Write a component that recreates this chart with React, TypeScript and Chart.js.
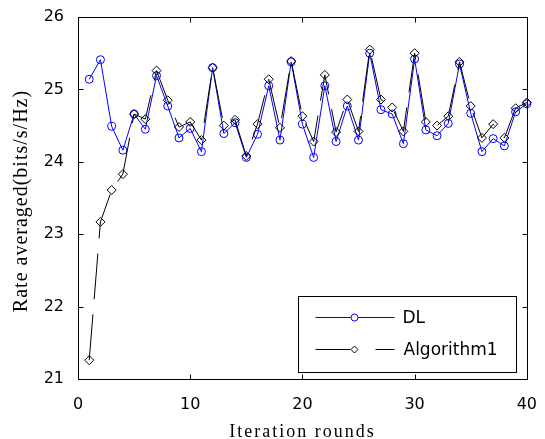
import React, { useEffect, useRef } from "react";
import { Chart, registerables } from "chart.js";

Chart.register(...registerables);

// ---- data ----
const iterations = [
  1, 2, 3, 4, 5, 6, 7, 8, 9, 10, 11, 12, 13, 14, 15, 16, 17, 18, 19, 20,
  21, 22, 23, 24, 25, 26, 27, 28, 29, 30, 31, 32, 33, 34, 35, 36, 37, 38, 39, 40,
];
const dlRate = [
  25.14, 25.41, 24.49, 24.16, 24.66, 24.45, 25.19, 24.77, 24.33, 24.46,
  24.14, 25.3, 24.39, 24.54, 24.06, 24.38, 25.05, 24.3, 25.38, 24.52,
  24.06, 25.05, 24.28, 24.77, 24.3, 25.5, 24.72, 24.66, 24.25, 25.42,
  24.44, 24.36, 24.53, 25.35, 24.67, 24.14, 24.32, 24.22, 24.69, 24.8,
];
const algRate = [
  21.26, 23.17, 23.61, 23.83, 24.66, 24.59, 25.26, 24.85, 24.48, 24.55,
  24.3, 25.3, 24.5, 24.58, 24.08, 24.52, 25.14, 24.47, 25.39, 24.63,
  24.28, 25.2, 24.41, 24.86, 24.42, 25.55, 24.86, 24.75, 24.42, 25.5,
  24.55, 24.5, 24.63, 25.38, 24.77, 24.33, 24.52, 24.33, 24.74, 24.82,
];
const seriesNames = ["DL", "Algorithm1"];
const xTickValues = [0, 10, 20, 30, 40];
const xTickLabels = ["0", "10", "20", "30", "40"];
const yTickValues = [21, 22, 23, 24, 25, 26];
const yTickLabels = ["21", "22", "23", "24", "25", "26"];
const xTitle = "Iteration rounds";
const yTitle = "Rate averaged(bits/s/Hz)";

const BLUE = "#0000ff";
const BLACK = "#000000";
const TICK_FONT = { family: "'DejaVu Sans'", size: 16 };

const framePlugin = {
  id: "matlabFrame",
  afterDraw(chart: any) {
    const { ctx, chartArea: a, scales } = chart;
    const xs = scales.x;
    const ys = scales.y;
    ctx.save();
    ctx.strokeStyle = BLACK;
    ctx.lineWidth = 1;
    ctx.setLineDash([]);
    const L = Math.round(a.left) + 0.5;
    const R = Math.round(a.right) + 0.5;
    const T = Math.round(a.top) + 0.5;
    const B = Math.round(a.bottom) + 0.5;
    ctx.strokeRect(L, T, R - L, B - T);
    const tl = 5;
    ctx.beginPath();
    for (const v of xTickValues) {
      const p = Math.round(xs.getPixelForValue(v)) + 0.5;
      ctx.moveTo(p, B);
      ctx.lineTo(p, B - tl);
      ctx.moveTo(p, T);
      ctx.lineTo(p, T + tl);
    }
    for (const v of yTickValues) {
      const p = Math.round(ys.getPixelForValue(v)) + 0.5;
      ctx.moveTo(L, p);
      ctx.lineTo(L + tl, p);
      ctx.moveTo(R, p);
      ctx.lineTo(R - tl, p);
    }
    ctx.stroke();

    // axis titles
    ctx.fillStyle = BLACK;
    ctx.textBaseline = "alphabetic";
    ctx.textAlign = "center";
    ctx.font = '18px "Liberation Serif"';
    (ctx as any).letterSpacing = "2px";
    ctx.fillText(xTitle, (a.left + a.right) / 2, 437);
    ctx.save();
    ctx.font = '20px "Liberation Serif"';
    (ctx as any).letterSpacing = "1px";
    ctx.translate(27, (a.top + a.bottom) / 2 + 3);
    ctx.rotate(-Math.PI / 2);
    ctx.fillText(yTitle, 0, 0);
    ctx.restore();
    (ctx as any).letterSpacing = "0px";

    // legend
    const bx = Math.round(a.right) - 229 + 0.5;
    const by = Math.round(a.bottom) - 83 + 0.5;
    const bw = 218;
    const bh = 76;
    ctx.fillStyle = "#ffffff";
    ctx.fillRect(bx, by, bw, bh);
    ctx.strokeStyle = BLACK;
    ctx.strokeRect(bx, by, bw, bh);

    const lx0 = bx + 17;
    const lx1 = bx + 96;
    const mx = bx + 56;
    const row1 = by + 21;
    const row2 = by + 53;
    // DL row
    ctx.strokeStyle = BLUE;
    ctx.beginPath();
    ctx.moveTo(lx0, row1);
    ctx.lineTo(lx1, row1);
    ctx.stroke();
    ctx.beginPath();
    ctx.arc(mx, row1, 3.5, 0, Math.PI * 2);
    ctx.fillStyle = "#ffffff";
    ctx.fill();
    ctx.stroke();
    // Algorithm1 row
    ctx.strokeStyle = BLACK;
    ctx.setLineDash([35, 25]);
    ctx.beginPath();
    ctx.moveTo(lx0, row2);
    ctx.lineTo(lx1, row2);
    ctx.stroke();
    ctx.setLineDash([]);
    ctx.beginPath();
    ctx.moveTo(mx - 3.5, row2);
    ctx.lineTo(mx, row2 - 3.5);
    ctx.lineTo(mx + 3.5, row2);
    ctx.lineTo(mx, row2 + 3.5);
    ctx.closePath();
    ctx.fillStyle = "#ffffff";
    ctx.fill();
    ctx.stroke();

    ctx.fillStyle = BLACK;
    ctx.textAlign = "left";
    ctx.textBaseline = "middle";
    ctx.font = "17px 'DejaVu Sans'";
    ctx.fillText(seriesNames[0], bx + 104, row1 + 1);
    ctx.fillText(seriesNames[1], bx + 105, row2 + 1);
    ctx.restore();
  },
};

export default function App() {
  const ref = useRef<HTMLCanvasElement>(null);

  useEffect(() => {
    const canvas = ref.current;
    if (!canvas) return;
    const chart = new Chart(canvas, {
      type: "line",
      data: {
        datasets: [
          {
            label: seriesNames[0],
            data: iterations.map((x, i) => ({ x, y: dlRate[i] })),
            borderColor: BLUE,
            backgroundColor: "transparent",
            borderWidth: 1,
            pointStyle: "circle",
            pointRadius: 4,
            pointBorderColor: BLUE,
            pointBackgroundColor: "transparent",
            pointBorderWidth: 1,
            tension: 0,
            clip: false,
            order: 1,
          } as any,
          {
            label: seriesNames[1],
            data: iterations.map((x, i) => ({ x, y: algRate[i] })),
            borderColor: BLACK,
            backgroundColor: "transparent",
            borderWidth: 1,
            borderDash: [46, 15],
            pointStyle: "rectRot",
            pointRadius: 4.5,
            pointBorderColor: BLACK,
            pointBackgroundColor: "transparent",
            pointBorderWidth: 1,
            tension: 0,
            clip: false,
            order: 0,
          } as any,
        ],
      },
      options: {
        responsive: false,
        devicePixelRatio: 1,
        animation: false,
        events: [],
        layout: { padding: { top: 17, right: 13, left: 0, bottom: 0 } },
        plugins: {
          legend: { display: false },
          tooltip: { enabled: false },
          title: { display: false },
        },
        scales: {
          x: {
            type: "linear",
            min: 0,
            max: 40,
            grid: { display: false },
            border: { display: false },
            ticks: {
              color: BLACK,
              font: TICK_FONT,
              padding: 8,
              maxRotation: 0,
              callback: (_v: any, i: number) => xTickLabels[i],
            },
            afterBuildTicks: (s: any) => {
              s.ticks = xTickValues.map((v) => ({ value: v }));
            },
            afterFit: (s: any) => {
              s.height = 60;
            },
          },
          y: {
            type: "linear",
            min: 21,
            max: 26,
            grid: { display: false },
            border: { display: false },
            ticks: {
              color: BLACK,
              font: TICK_FONT,
              padding: 6,
              callback: (_v: any, i: number) => yTickLabels[i],
            },
            afterBuildTicks: (s: any) => {
              s.ticks = yTickValues.map((v) => ({ value: v }));
            },
            afterFit: (s: any) => {
              s.width = 78;
            },
          },
        },
      } as any,
      plugins: [framePlugin],
    });
    return () => chart.destroy();
  }, []);

  return (
    <div
      style={{
        position: "absolute",
        left: 0,
        top: 0,
        width: 545,
        height: 439,
        background: "#ffffff",
      }}
    >
      <canvas
        ref={ref}
        width={545}
        height={439}
        style={{ display: "block", width: 545, height: 439 }}
      />
    </div>
  );
}
